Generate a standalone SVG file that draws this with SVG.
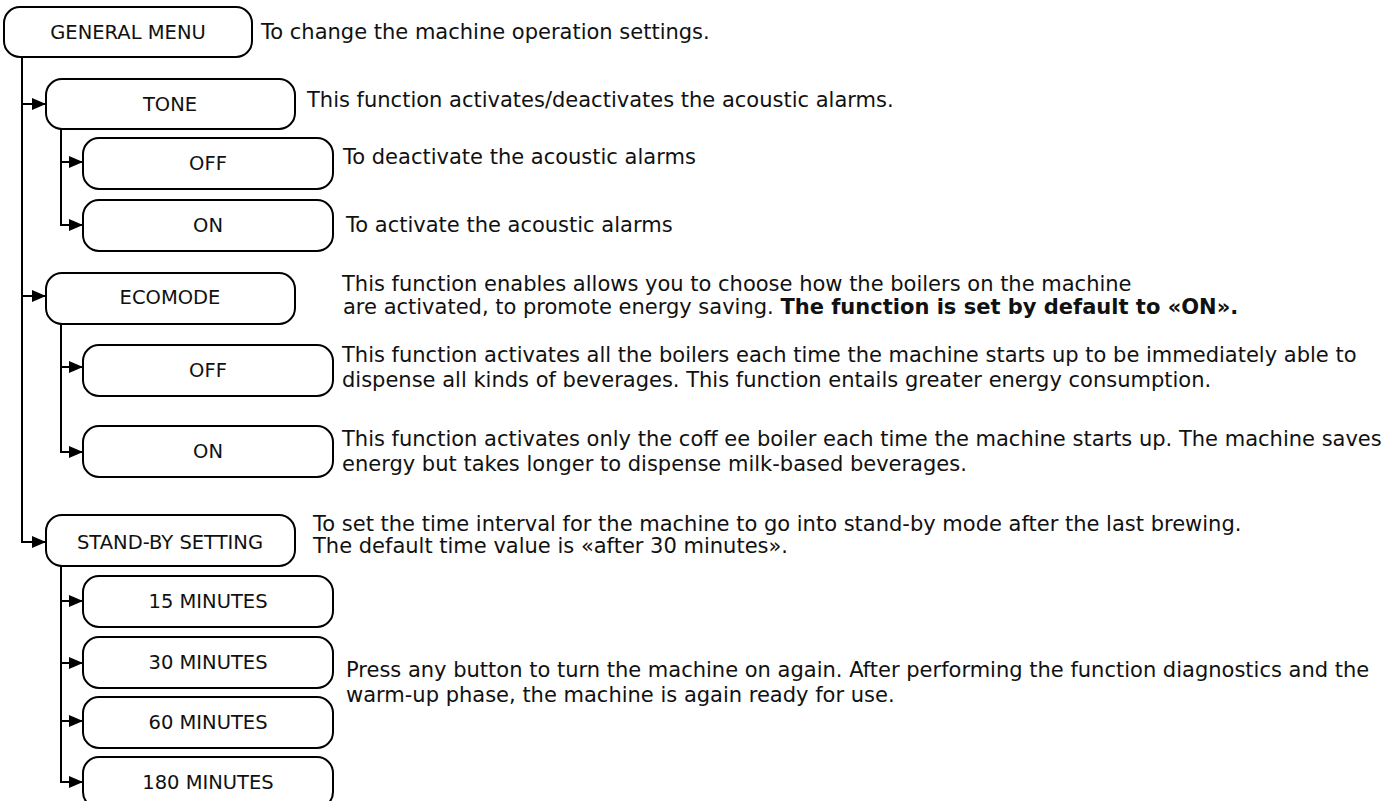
<svg xmlns="http://www.w3.org/2000/svg" width="1397" height="801" viewBox="0 0 1397 801">
<defs>
<marker id="arr" markerWidth="15" markerHeight="14" refX="14" refY="7" orient="auto" markerUnits="userSpaceOnUse">
<path d="M0,1 L14,7 L0,13 Z" fill="#000"/>
</marker>
<style>
.box{fill:#fff;stroke:#000;stroke-width:2}
.lbl{font-family:"DejaVu Sans",Verdana,sans-serif;font-size:19.5px;fill:#111;text-anchor:middle}
.desc{font-family:"DejaVu Sans",Verdana,sans-serif;font-size:21px;fill:#111}
.b{font-weight:bold}
.con{fill:none;stroke:#000;stroke-width:2}
</style>
</defs>
<rect width="1397" height="801" fill="#fff"/>
<g id="connectors">
<path class="con" d="M22,57 V542 H46" marker-end="url(#arr)"/>
<path class="con" d="M22,104 H46" marker-end="url(#arr)"/>
<path class="con" d="M22,296 H46" marker-end="url(#arr)"/>
<path class="con" d="M61,128 V225 H83" marker-end="url(#arr)"/>
<path class="con" d="M61,162 H83" marker-end="url(#arr)"/>
<path class="con" d="M61,324 V452 H83" marker-end="url(#arr)"/>
<path class="con" d="M61,367 H83" marker-end="url(#arr)"/>
<path class="con" d="M61,566 V782 H83" marker-end="url(#arr)"/>
<path class="con" d="M61,601 H83" marker-end="url(#arr)"/>
<path class="con" d="M61,663 H83" marker-end="url(#arr)"/>
<path class="con" d="M61,721 H83" marker-end="url(#arr)"/>
</g>
<g id="general-menu">
<rect class="box" x="4" y="7" width="248" height="50" rx="16"/>
<text class="lbl" x="128" y="39">GENERAL MENU</text>
<text class="desc" x="261" y="39">To change the machine operation settings.</text>
</g>
<g id="tone">
<rect class="box" x="46" y="79" width="249" height="50" rx="16"/>
<text class="lbl" x="170" y="111">TONE</text>
<text class="desc" x="307" y="107">This function activates/deactivates the acoustic alarms.</text>
</g>
<g id="tone-off">
<rect class="box" x="83" y="138" width="250" height="51" rx="16"/>
<text class="lbl" x="208" y="170">OFF</text>
<text class="desc" x="343" y="164">To deactivate the acoustic alarms</text>
</g>
<g id="tone-on">
<rect class="box" x="83" y="200" width="250" height="51" rx="16"/>
<text class="lbl" x="208" y="232">ON</text>
<text class="desc" x="346" y="232">To activate the acoustic alarms</text>
</g>
<g id="ecomode">
<rect class="box" x="46" y="273" width="249" height="51" rx="16"/>
<text class="lbl" x="170" y="304">ECOMODE</text>
<text class="desc" x="342" y="291">This function enables allows you to choose how the boilers on the machine</text>
<text class="desc" x="343" y="314">are activated, to promote energy saving. <tspan class="b">The function is set by default to «ON».</tspan></text>
</g>
<g id="ecomode-off">
<rect class="box" x="83" y="345" width="250" height="51" rx="16"/>
<text class="lbl" x="208" y="377">OFF</text>
<text class="desc" x="342" y="362">This function activates all the boilers each time the machine starts up to be immediately able to</text>
<text class="desc" x="342" y="387">dispense all kinds of beverages. This function entails greater energy consumption.</text>
</g>
<g id="ecomode-on">
<rect class="box" x="83" y="426" width="250" height="51" rx="16"/>
<text class="lbl" x="208" y="458">ON</text>
<text class="desc" x="342" y="446">This function activates only the coff ee boiler each time the machine starts up. The machine saves</text>
<text class="desc" x="342" y="471">energy but takes longer to dispense milk-based beverages.</text>
</g>
<g id="stand-by">
<rect class="box" x="46" y="515" width="249" height="51" rx="16"/>
<text class="lbl" x="170" y="549">STAND-BY SETTING</text>
<text class="desc" x="313" y="531">To set the time interval for the machine to go into stand-by mode after the last brewing.</text>
<text class="desc" x="313" y="553">The default time value is «after 30 minutes».</text>
</g>
<g id="min15">
<rect class="box" x="83" y="576" width="250" height="51" rx="16"/>
<text class="lbl" x="208" y="608">15 MINUTES</text>
</g>
<g id="min30">
<rect class="box" x="83" y="637" width="250" height="51" rx="16"/>
<text class="lbl" x="208" y="669">30 MINUTES</text>
<text class="desc" x="346" y="677">Press any button to turn the machine on again. After performing the function diagnostics and the</text>
<text class="desc" x="346" y="702">warm-up phase, the machine is again ready for use.</text>
</g>
<g id="min60">
<rect class="box" x="83" y="697" width="250" height="51" rx="16"/>
<text class="lbl" x="208" y="729">60 MINUTES</text>
</g>
<g id="min180">
<rect class="box" x="83" y="757" width="250" height="51" rx="16"/>
<text class="lbl" x="208" y="789">180 MINUTES</text>
</g>
</svg>
